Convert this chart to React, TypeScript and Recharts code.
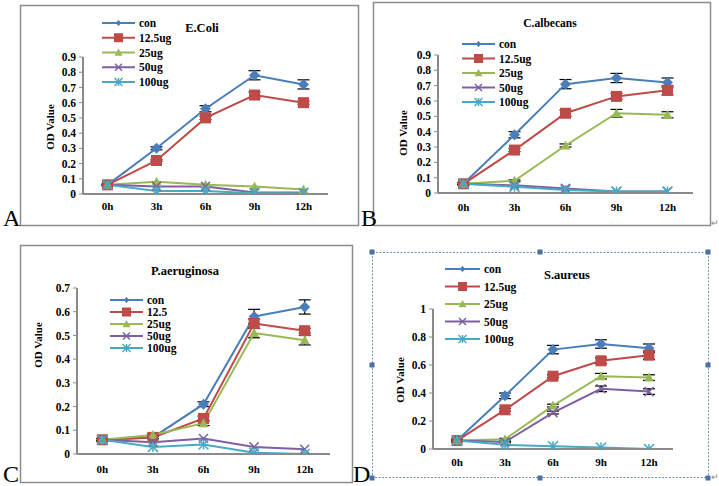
import React from 'react';
import { LineChart, Line, XAxis, YAxis, ErrorBar, Legend } from 'recharts';

// ---------- data ----------
const times = ['0h', '3h', '6h', '9h', '12h'];
const seriesNames = ['con', '12.5ug', '25ug', '50ug', '100ug'];
const seriesNamesC = ['con', '12.5', '25ug', '50ug', '100ug'];

// A: E.Coli
const ecoliCon = [0.06, 0.3, 0.56, 0.78, 0.72];
const ecoli125 = [0.06, 0.22, 0.5, 0.65, 0.6];
const ecoli25 = [0.06, 0.08, 0.06, 0.05, 0.03];
const ecoli50 = [0.06, 0.05, 0.05, 0.01, 0.01];
const ecoli100 = [0.06, 0.02, 0.02, 0.005, 0.005];
const ecoliConErr = [0.005, 0.01, 0.02, 0.03, 0.03];
const ecoli125Err = [0.005, 0.005, 0.01, 0.02, 0.01];

// B: C.albecans
const calbCon = [0.06, 0.38, 0.71, 0.75, 0.72];
const calb125 = [0.06, 0.28, 0.52, 0.63, 0.67];
const calb25 = [0.06, 0.08, 0.31, 0.52, 0.51];
const calb50 = [0.06, 0.05, 0.03, 0.01, 0.01];
const calb100 = [0.06, 0.04, 0.02, 0.01, 0.01];
const calbConErr = [0.01, 0.02, 0.03, 0.03, 0.03];
const calb125Err = [0.005, 0.01, 0.02, 0.02, 0.03];
const calb25Err = [0.005, 0.005, 0.01, 0.025, 0.02];

// C: P.aeruginosa
const paerCon = [0.06, 0.07, 0.21, 0.58, 0.62];
const paer125 = [0.06, 0.07, 0.15, 0.55, 0.52];
const paer25 = [0.06, 0.08, 0.13, 0.51, 0.48];
const paer50 = [0.06, 0.05, 0.065, 0.03, 0.02];
const paer100 = [0.06, 0.03, 0.04, 0.005, 0.0];
const paerConErr = [0.005, 0.005, 0.01, 0.03, 0.03];
const paer125Err = [0.005, 0.005, 0.01, 0.02, 0.01];
const paer25Err = [0.005, 0.005, 0.01, 0.02, 0.02];

// D: S.aureus
const saurCon = [0.06, 0.38, 0.71, 0.75, 0.72];
const saur125 = [0.06, 0.28, 0.52, 0.63, 0.67];
const saur25 = [0.06, 0.07, 0.31, 0.52, 0.51];
const saur50 = [0.06, 0.05, 0.26, 0.43, 0.41];
const saur100 = [0.06, 0.03, 0.02, 0.01, 0.0];
const saurConErr = [0.01, 0.02, 0.03, 0.03, 0.03];
const saur125Err = [0.005, 0.01, 0.01, 0.02, 0.03];
const saur25Err = [0.005, 0.005, 0.01, 0.02, 0.02];
const saur50Err = [0.005, 0.005, 0.01, 0.02, 0.02];

const ticksA = [0, 0.1, 0.2, 0.3, 0.4, 0.5, 0.6, 0.7, 0.8, 0.9];
const ticksC = [0, 0.1, 0.2, 0.3, 0.4, 0.5, 0.6, 0.7];
const ticksD = [0, 0.2, 0.4, 0.6, 0.8, 1];

// ---------- styles ----------
const COLORS = ['#4A7EBB', '#BE4B48', '#98B954', '#7D60A0', '#46AAC5'];
const SHAPES = ['diamond', 'square', 'triangle', 'x', 'star'];
const PLOT_SIZES = [11, 11, 10, 9, 10];
const LEG_SIZES = [6, 9, 8, 7, 8];
const AXIS = '#8A8A8A';
const FONT = '"Liberation Serif", "Times New Roman", serif';

function buildRows(series: number[][], errs: (number[] | null)[]) {
  return times.map((t, i) => {
    const row: any = { t };
    series.forEach((s, k) => {
      row['s' + k] = s[i];
      if (errs[k]) row['e' + k] = (errs[k] as number[])[i];
    });
    return row;
  });
}

function Marker({ shape, cx, cy, color, size }: any) {
  const s = size / 2;
  if (cx == null || cy == null) return null;
  switch (shape) {
    case 'diamond':
      return <path d={`M${cx},${cy - s}L${cx + s},${cy}L${cx},${cy + s}L${cx - s},${cy}Z`} fill={color} />;
    case 'square':
      return <rect x={cx - s} y={cy - s} width={size} height={size} fill={color} />;
    case 'triangle':
      return <path d={`M${cx},${cy - s}L${cx + s},${cy + s * 0.8}L${cx - s},${cy + s * 0.8}Z`} fill={color} />;
    case 'x':
      return (
        <g stroke={color} strokeWidth={1.5}>
          <line x1={cx - s} y1={cy - s} x2={cx + s} y2={cy + s} />
          <line x1={cx - s} y1={cy + s} x2={cx + s} y2={cy - s} />
        </g>
      );
    default:
      return (
        <g stroke={color} strokeWidth={1.5}>
          <line x1={cx - s} y1={cy - s} x2={cx + s} y2={cy + s} />
          <line x1={cx - s} y1={cy + s} x2={cx + s} y2={cy - s} />
          <line x1={cx} y1={cy - s} x2={cx} y2={cy + s} />
        </g>
      );
  }
}

function makeLegend(names: string[], lx: number, ly: number, dy: number, len: number, W: number, H: number) {
  return () => (
    <svg width={W} height={H} style={{ position: 'absolute', left: 0, top: 0, overflow: 'visible' }}>
      {names.map((n, k) => {
        const y = ly + k * dy;
        return (
          <g key={n}>
            <line x1={lx} y1={y} x2={lx + len} y2={y} stroke={COLORS[k]} strokeWidth={2.2} />
            <Marker shape={SHAPES[k]} cx={lx + len / 2} cy={y} color={COLORS[k]} size={LEG_SIZES[k]} />
            <text x={lx + len + 4} y={y + 4} fontFamily={FONT} fontWeight="bold" fontSize={11.5} fill="#000">
              {n}
            </text>
          </g>
        );
      })}
    </svg>
  );
}

type PanelProps = {
  left: number; top: number; W: number; H: number;
  margin: any; xh: number; yw: number; pad: number; tickMargin: number;
  domainMax: number; ticks: number[];
  rows: any[]; errKeys: boolean[];
  names: string[]; legend: number[];
};

function Panel(p: PanelProps) {
  return (
    <div style={{ position: 'absolute', left: p.left, top: p.top, fontFamily: FONT }}>
      <LineChart width={p.W} height={p.H} data={p.rows} margin={p.margin}>
        <XAxis
          dataKey="t"
          height={p.xh}
          padding={{ left: p.pad, right: p.pad }}
          axisLine={{ stroke: AXIS, strokeWidth: 2 }}
          tickLine={false}
          tickMargin={p.tickMargin}
          tick={{ fontFamily: FONT, fontWeight: 'bold', fontSize: 11, fill: '#000' }}
          interval={0}
        />
        <YAxis
          width={p.yw}
          domain={[0, p.domainMax]}
          ticks={p.ticks}
          interval={0}
          allowDataOverflow
          axisLine={{ stroke: AXIS, strokeWidth: 2 }}
          tickLine={{ stroke: AXIS, strokeWidth: 1 }}
          tickSize={4}
          tickMargin={3}
          tick={{ fontFamily: FONT, fontWeight: 'bold', fontSize: 11.5, fill: '#000' }}
        />
        <Legend
          layout="horizontal"
          verticalAlign="middle"
          align="center"
          wrapperStyle={{ left: 0, top: 0, width: p.W, height: p.H, pointerEvents: 'none' }}
          content={makeLegend(p.names, p.legend[0], p.legend[1], p.legend[2], p.legend[3], p.W, p.H)}
        />
        {[0, 1, 2, 3, 4].map((k) => (
          <Line
            key={k}
            dataKey={'s' + k}
            stroke={COLORS[k]}
            strokeWidth={2}
            isAnimationActive={false}
            dot={(d: any) => (
              <Marker key={'d' + k + '-' + d.index} shape={SHAPES[k]} cx={d.cx} cy={d.cy} color={COLORS[k]} size={PLOT_SIZES[k]} />
            )}
            activeDot={false}
          >
            {p.errKeys[k] ? (
              <ErrorBar dataKey={'e' + k} direction="y" width={6} stroke="#000" strokeWidth={1.2} />
            ) : null}
          </Line>
        ))}
      </LineChart>
    </div>
  );
}

const rowsA = buildRows([ecoliCon, ecoli125, ecoli25, ecoli50, ecoli100], [ecoliConErr, ecoli125Err, null, null, null]);
const rowsB = buildRows([calbCon, calb125, calb25, calb50, calb100], [calbConErr, calb125Err, calb25Err, null, null]);
const rowsC = buildRows([paerCon, paer125, paer25, paer50, paer100], [paerConErr, paer125Err, paer25Err, null, null]);
const rowsD = buildRows([saurCon, saur125, saur25, saur50, saur100], [saurConErr, saur125Err, saur25Err, saur50Err, null]);

function Handle({ x, y }: any) {
  return <rect x={x - 2.5} y={y - 2.5} width={5} height={5} fill="#4A6FA5" />;
}

export default function App() {
  const txt = { fontFamily: FONT, fontWeight: 'bold' as const, fill: '#000' };
  return (
    <div style={{ position: 'absolute', left: 0, top: 0, width: 719, height: 486, background: '#fff', overflow: 'hidden' }}>
      <svg width={719} height={486} style={{ position: 'absolute', left: 0, top: 0 }}>
        {/* frames */}
        <rect x={20.5} y={5.5} width={338} height={220} fill="none" stroke="#8C8C8C" strokeWidth={1.5} />
        <rect x={373.5} y={2.5} width={337} height={223} fill="none" stroke="#8C8C8C" strokeWidth={1.5} />
        <rect x={20.5} y={245.5} width={332} height={237} fill="none" stroke="#8C8C8C" strokeWidth={1.5} />
        <rect x={372.5} y={252.5} width={336} height={225} fill="none" stroke="#7A8FB5" strokeWidth={1} strokeDasharray="2 1.5" />
        {[[372, 252], [540, 252], [708, 252], [372, 365], [708, 365], [372, 478], [540, 478], [708, 478]].map(([x, y], i) => (
          <Handle key={i} x={x} y={y} />
        ))}
        {/* panel letters */}
        <text x={3} y={226} fontFamily={FONT} fontSize={24} fill="#000">A</text>
        <text x={361} y={226} fontFamily={FONT} fontSize={24} fill="#000">B</text>
        <text x={3} y={482} fontFamily={FONT} fontSize={24} fill="#000">C</text>
        <text x={353} y={482} fontFamily={FONT} fontSize={24} fill="#000">D</text>
        <text x={711} y={226} fontFamily={FONT} fontSize={9} fill="#888">↵</text>
        <text x={711} y={480} fontFamily={FONT} fontSize={9} fill="#888">↵</text>
        {/* titles */}
        <text x={202} y={32} textAnchor="middle" fontSize={12.5} {...txt}>E.Coli</text>
        <text x={550} y={27} textAnchor="middle" fontSize={11.5} {...txt}>C.albecans</text>
        <text x={185} y={275} textAnchor="middle" fontSize={12.5} {...txt}>P.aeruginosa</text>
        <text x={567} y={279} textAnchor="middle" fontSize={12.5} {...txt}>S.aureus</text>
        {/* y axis titles */}
        <text transform="translate(54,127) rotate(-90)" textAnchor="middle" fontSize={11} {...txt}>OD Value</text>
        <text transform="translate(407,133) rotate(-90)" textAnchor="middle" fontSize={11} {...txt}>OD Value</text>
        <text transform="translate(42,345) rotate(-90)" textAnchor="middle" fontSize={11} {...txt}>OD Value</text>
        <text transform="translate(404,380) rotate(-90)" textAnchor="middle" fontSize={11} {...txt}>OD Value</text>
      </svg>

      <Panel
        left={20} top={5} W={338} H={222}
        margin={{ top: 52, right: 30, bottom: 3, left: 23 }} xh={30} yw={40} pad={24.5} tickMargin={2}
        domainMax={0.9} ticks={ticksA} rows={rowsA} errKeys={[true, true, false, false, false]}
        names={seriesNames} legend={[82, 18, 14.75, 33]}
      />
      <Panel
        left={373} top={2} W={337} H={225}
        margin={{ top: 53, right: 17, bottom: 4, left: 25 }} xh={30} yw={40} pad={25.5} tickMargin={4}
        domainMax={0.9} ticks={ticksA} rows={rowsB} errKeys={[true, true, true, false, false]}
        names={seriesNames} legend={[89, 42, 14.5, 33]}
      />
      <Panel
        left={20} top={245} W={333} H={238}
        margin={{ top: 43, right: 23, bottom: 3, left: 17 }} xh={26} yw={40} pad={25.3} tickMargin={5}
        domainMax={0.7} ticks={ticksC} rows={rowsC} errKeys={[true, true, true, false, false]}
        names={seriesNamesC} legend={[90, 55, 12, 33]}
      />
      <Panel
        left={372} top={252} W={336} H={226}
        margin={{ top: 57, right: 35, bottom: 3, left: 21 }} xh={26} yw={40} pad={24} tickMargin={3}
        domainMax={1} ticks={ticksD} rows={rowsD} errKeys={[true, true, true, true, false]}
        names={seriesNames} legend={[73, 17, 17.5, 35]}
      />
    </div>
  );
}
